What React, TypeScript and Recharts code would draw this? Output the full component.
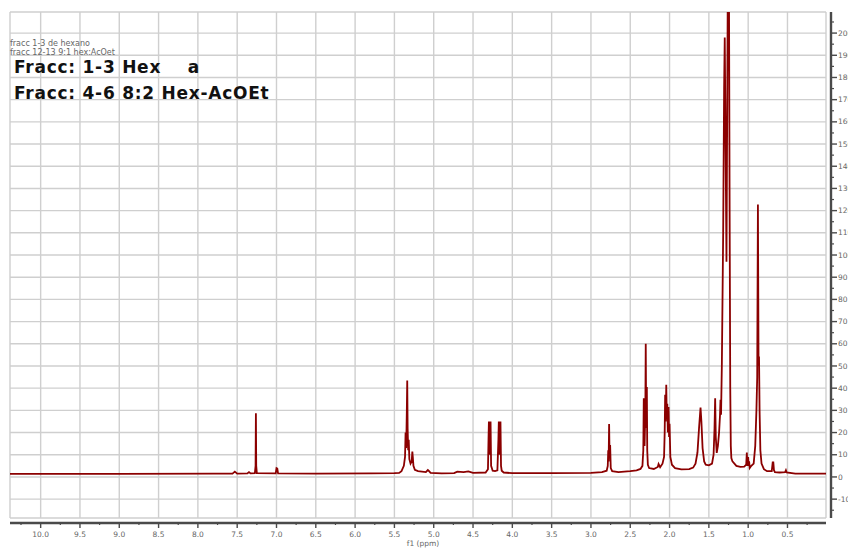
import React from "react";
import { LineChart, Line, XAxis, YAxis, CartesianGrid } from "recharts";

// chemical shift (ppm) and intensity
const shifts = [
  10.39, 9.0, 7.8, 7.56, 7.53, 7.5, 7.37, 7.35, 7.33, 7.275, 7.266, 7.262, 7.258, 7.25, 7.01, 7.0, 6.99, 6.98, 6.5, 5.8, 5.5,
  5.44, 5.41, 5.38, 5.365, 5.358, 5.35, 5.342, 5.337, 5.332, 5.325, 5.318, 5.31, 5.295, 5.28, 5.272, 5.266, 5.258, 5.24, 5.2, 5.1, 5.075, 5.065, 5.04, 4.9,
  4.74, 4.7, 4.62, 4.56, 4.5, 4.34, 4.31, 4.303, 4.298, 4.291, 4.284, 4.277, 4.27, 4.25, 4.22, 4.19, 4.177, 4.172, 4.165, 4.158, 4.151, 4.144, 4.135, 4.11, 4.0,
  3.5, 3.0, 2.86, 2.8, 2.786, 2.78, 2.775, 2.769, 2.763, 2.756, 2.748, 2.73, 2.65, 2.5,
  2.42, 2.37, 2.345, 2.334, 2.328, 2.318, 2.308, 2.303, 2.297, 2.289, 2.284, 2.276, 2.26, 2.2, 2.15, 2.14, 2.12, 2.09, 2.07, 2.062, 2.056, 2.049, 2.042, 2.036, 2.029, 2.022, 2.013, 2.006, 2.0, 1.99, 1.97, 1.93, 1.85,
  1.75, 1.7, 1.67, 1.645, 1.625, 1.606, 1.595, 1.58, 1.56, 1.54, 1.5, 1.46, 1.44, 1.428, 1.42, 1.412, 1.4, 1.385, 1.37, 1.358, 1.352, 1.345, 1.335, 1.318, 1.306, 1.298, 1.276, 1.258, 1.245, 1.236, 1.228, 1.221, 1.214, 1.2,
  1.15, 1.1, 1.05, 1.025, 1.017, 1.01, 1.0, 0.994, 0.988, 0.98, 0.96, 0.93, 0.91, 0.895, 0.885, 0.876, 0.868, 0.862, 0.855, 0.845, 0.83, 0.8, 0.76, 0.7, 0.688, 0.68, 0.672, 0.66, 0.6, 0.53, 0.52, 0.51, 0.4, 0.01,
];
const intensity = [
  1.4, 1.4, 1.5, 1.5, 2.4, 1.5, 1.6, 2.2, 1.6, 1.7, 5, 28.7, 5, 1.7, 1.6, 4, 3.8, 1.6, 1.5, 1.6, 1.7,
  1.8, 2.6, 5, 9, 20, 13, 30, 43.5, 22, 12, 16.7, 8, 6, 7, 11.4, 9, 5, 3.2, 2.6, 2.2, 3.1, 2.8, 1.8, 1.6,
  1.7, 2.4, 2.2, 2.5, 1.8, 2.0, 3.5, 17, 25, 10, 18, 25, 5, 2.8, 2.6, 3.0, 17, 25, 10, 18, 25, 5, 2.8, 2.0, 1.7,
  1.7, 1.8, 2.2, 2.8, 5, 12, 7, 23.8, 9, 14.4, 4, 2.6, 2.2, 2.6,
  3.0, 3.6, 5, 12, 35.5, 14, 30, 60, 22, 40.5, 12, 5.5, 4, 3.6, 4.5, 5.8, 4.4, 6, 9, 20, 37, 25, 41.5, 28, 33, 20, 31.5, 18, 24, 9, 5.5, 4, 3.4,
  3.5, 4.2, 6, 11, 22, 31.3, 25, 13, 7, 5.5, 5.2, 6, 10, 22, 35.5, 18, 10.8, 14, 20, 28, 34.8, 28, 50, 110, 175, 198, 97, 230, 230, 120, 40, 14, 8.5, 7,
  5, 4.5, 4.6, 5.5, 11, 5, 9, 5, 7, 4, 5, 6, 14, 30, 45, 122.8, 50, 54.3, 30, 12, 6, 3.5, 2.6, 2.6, 6.5, 6.5, 3, 2.2, 2, 2.2, 3, 2, 1.5, 1.5,
];

const majorShifts = [10.0, 9.5, 9.0, 8.5, 8.0, 7.5, 7.0, 6.5, 6.0, 5.5, 5.0, 4.5, 4.0, 3.5, 3.0, 2.5, 2.0, 1.5, 1.0, 0.5];
const minorShifts = [10.25, 9.75, 9.25, 8.75, 8.25, 7.75, 7.25, 6.75, 6.25, 5.75, 5.25, 4.75, 4.25, 3.75, 3.25, 2.75, 2.25, 1.75, 1.25, 0.75, 0.25];
const majorCounts = [-10, 0, 10, 20, 30, 40, 50, 60, 70, 80, 90, 100, 110, 120, 130, 140, 150, 160, 170, 180, 190, 200];
const minorCounts = [-15, -5, 5, 15, 25, 35, 45, 55, 65, 75, 85, 95, 105, 115, 125, 135, 145, 155, 165, 175, 185, 195, 205];

const notes = ["fracc 1-3 de hexano", "fracc 12-13 9:1 hex:AcOet"];
const titles = ["Fracc: 1-3 Hex    a", "Fracc: 4-6 8:2 Hex-AcOEt"];

const xDomain = [0.01, 10.39];
const yDomain = [-18.5, 209.5];

const data = shifts.map((ppm, i) => ({ ppm, value: intensity[i] }));
const xTicks = [...majorShifts, ...minorShifts].sort((a, b) => b - a);
const yTicks = [...majorCounts, ...minorCounts].sort((a, b) => a - b);

const FONT = "DejaVu Sans, Verdana, sans-serif";
const AXIS = "#4a4a4a";
const LABEL = "#666";

const isIn = (list: number[], v: number) => list.some((m) => Math.abs(m - v) < 1e-6);

const XTick = (props: any) => {
  const { x, y, payload } = props;
  const major = isIn(majorShifts, payload.value);
  return (
    <g>
      <line x1={x} x2={x} y1={y + 4} y2={y + (major ? 10 : 7)} stroke={AXIS} strokeWidth={major ? 1.4 : 1.2} />
      {major && (
        <text x={x} y={y + 19} textAnchor="middle" fontSize={7.5} fill={LABEL} fontFamily={FONT}>
          {payload.value.toFixed(1)}
        </text>
      )}
    </g>
  );
};

const YTick = (props: any) => {
  const { x, y, payload } = props;
  const major = isIn(majorCounts, payload.value);
  return (
    <g>
      <line x1={x + 5} x2={x + (major ? 11 : 8)} y1={y} y2={y} stroke={AXIS} strokeWidth={major ? 1.4 : 1.2} />
      {major && (
        <text x={x + 12} y={y} dy="0.35em" fontSize={7.5} fill={LABEL} fontFamily={FONT}>
          {payload.value}
        </text>
      )}
    </g>
  );
};

export default function App() {
  return (
    <div style={{ position: "absolute", left: 0, top: 0, width: 848, height: 550, overflow: "hidden", background: "#fff" }}>
      <LineChart width={848} height={550} data={data} margin={{ top: 12, right: 0, bottom: 0, left: 10 }}>
        <CartesianGrid
          stroke="#cfcfcf"
          strokeWidth={1.4}
          verticalValues={[...majorShifts, ...xDomain]}
          horizontalValues={[...majorCounts, ...yDomain]}
        />
        <XAxis
          dataKey="ppm"
          type="number"
          domain={xDomain}
          reversed
          allowDataOverflow
          ticks={xTicks}
          interval={0}
          tickSize={0}
          tickMargin={0}
          height={32}
          tickLine={false}
          tick={<XTick />}
          axisLine={{ stroke: AXIS, strokeWidth: 2.4, transform: "translate(0,5)" }}
          label={{ value: "f1 (ppm)", position: "insideBottom", offset: 4, dx: 5, fontSize: 7.5, fill: LABEL, fontFamily: FONT }}
        />
        <YAxis
          orientation="right"
          type="number"
          domain={yDomain}
          allowDataOverflow
          ticks={yTicks}
          interval={0}
          tickSize={0}
          tickMargin={0}
          width={22}
          tickLine={false}
          tick={<YTick />}
          axisLine={{ stroke: AXIS, strokeWidth: 2.4, transform: "translate(5,0)" }}
        />
        <Line
          type="linear"
          dataKey="value"
          stroke="#8B0000"
          strokeWidth={1.8}
          dot={false}
          activeDot={false}
          isAnimationActive={false}
        />
      </LineChart>
      <svg width={848} height={550} style={{ position: "absolute", left: 0, top: 0, pointerEvents: "none" }}>
        {notes.map((t, i) => (
          <text key={t} x={10} y={45.5 + i * 9} fontSize={8} fill="#666" fontFamily={FONT}>
            {t}
          </text>
        ))}
        {titles.map((t, i) => (
          <text
            key={t}
            x={14}
            y={72.5 + i * 26.7}
            fontSize={17}
            fontWeight="bold"
            fill="#111"
            fontFamily={FONT}
            letterSpacing={0.75}
            style={{ whiteSpace: "pre" }}
          >
            {t}
          </text>
        ))}
      </svg>
    </div>
  );
}
